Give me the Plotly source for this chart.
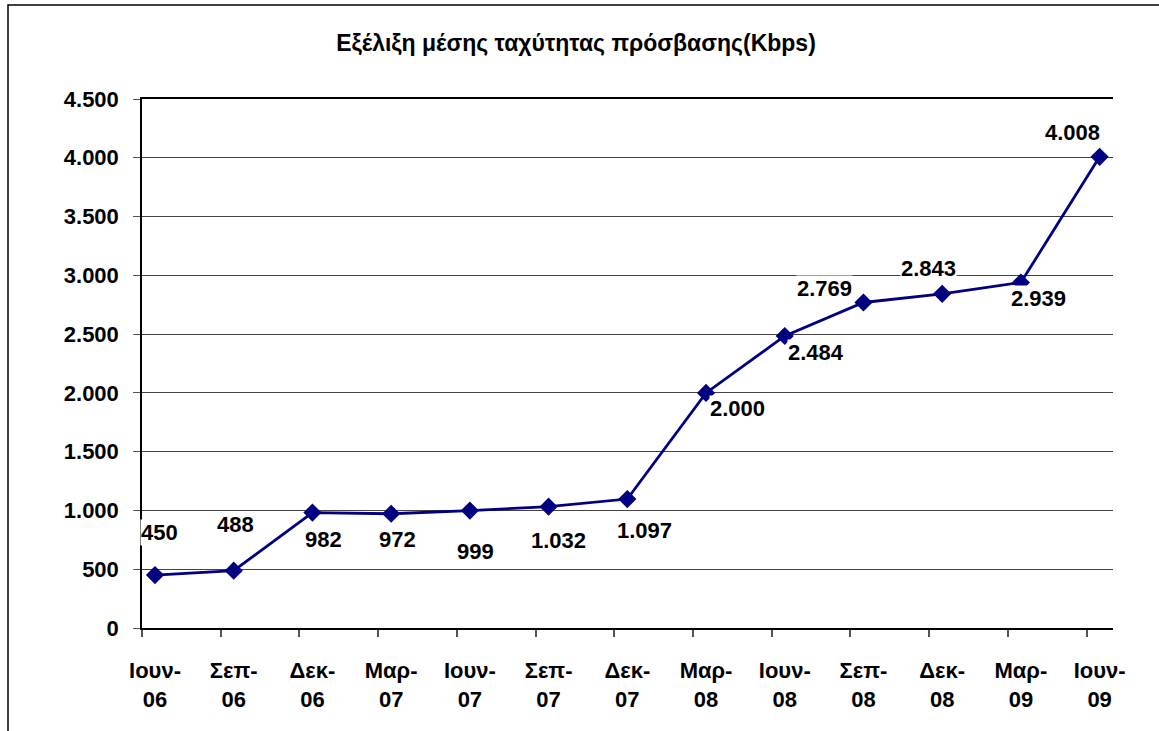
import plotly.graph_objects as go

# quarterly samples, Jun 2006 - Jun 2009
months = ['Ιουν', 'Σεπ', 'Δεκ', 'Μαρ', 'Ιουν', 'Σεπ', 'Δεκ',
          'Μαρ', 'Ιουν', 'Σεπ', 'Δεκ', 'Μαρ', 'Ιουν']
years = ['06', '06', '06', '07', '07', '07', '07',
         '08', '08', '08', '08', '09', '09']
speed_kbps = [450, 488, 982, 972, 999, 1032, 1097,
              2000, 2484, 2769, 2843, 2939, 4008]
y_ticks = [0, 500, 1000, 1500, 2000, 2500, 3000, 3500, 4000, 4500]

# label offsets (px) for each point, as placed in the original
label_dx = [5, 2, 11, 6, 6, 10, 17, 31, 31, -39, -14, 18, -27]
label_dy = [43, 46, -27, -26, -41, -34, -31, -16, -17, 14, 25, -16, 24]

FONT = 'Liberation Sans, Arial, sans-serif'
fsize = 22

W, H = 1159, 731
L, T = 142, 99
PW, PH = 971, 529


def fmt(v):
	# greek thousands separator
	return '{:,}'.format(v).replace(',', '.')


xs = list(range(len(months)))
cat_labels = ['{}-<br>{}'.format(m, y) for m, y in zip(months, years)]

fig = go.Figure()

fig.add_trace(
	go.Scatter(
		x=xs,
		y=speed_kbps,
		mode='lines+markers',
		line=dict(color='#000080', width=2.8),
		marker=dict(symbol='diamond', size=14, color='#000080'),
		showlegend=False,
		hoverinfo='skip'
		)
	)

for x, v, dx, dy in zip(xs, speed_kbps, label_dx, label_dy):
	fig.add_annotation(
		x=x, y=v,
		text='<b>{}</b>'.format(fmt(v)),
		showarrow=False,
		xshift=dx, yshift=dy,
		bgcolor='white',
		borderpad=0,
		font=dict(family=FONT, size=fsize, color='black')
		)

# outer chart frame (open on the right and bottom, like the cropped original)
fig.add_shape(
	type='rect', xref='paper', yref='paper',
	x0=(8 - L) / PW, x1=1.2,
	y0=-0.4, y1=(T + PH - 5) / PH,
	line=dict(color='black', width=1.5),
	layer='below'
	)

fig.update_layout(
	width=W,
	height=H,
	margin=dict(l=L, r=W - L - PW, t=T, b=H - T - PH),
	paper_bgcolor='white',
	plot_bgcolor='white',
	title=dict(
		text='<b>Εξέλιξη μέσης ταχύτητας πρόσβασης(Kbps)</b>',
		x=576 / W, xanchor='center',
		y=1 - 43 / H, yanchor='middle',
		font=dict(family=FONT, size=23, color='black')
		),
	xaxis=dict(
		range=[-0.165, 12.17],
		tickmode='array',
		tickvals=xs,
		ticktext=['<b>{}</b>'.format(t) for t in cat_labels],
		ticks='',
		ticklabelstandoff=22,
		showgrid=False,
		zeroline=False,
		showline=True,
		linecolor='black',
		linewidth=2,
		mirror=True,
		minor=dict(
			ticks='outside',
			tickmode='linear',
			tick0=-0.165,
			dtick=1,
			ticklen=7,
			tickcolor='#555555',
			tickwidth=1.5,
			showgrid=False
			),
		tickfont=dict(family=FONT, size=fsize, color='black')
		),
	yaxis=dict(
		range=[0, 4500],
		tickmode='array',
		tickvals=y_ticks,
		ticktext=['<b>{}</b>'.format(fmt(t)) for t in y_ticks],
		ticks='outside',
		ticklen=7,
		tickcolor='#555555',
		ticklabelstandoff=10,
		showgrid=True,
		gridcolor='#444444',
		gridwidth=1,
		zeroline=False,
		showline=True,
		linecolor='black',
		linewidth=1.5,
		tickfont=dict(family=FONT, size=fsize, color='black')
		)
	)

# drop the default page margin so the figure fills the window exactly
fig.write_html('out.html',
               config={'displayModeBar': False},
               post_script="document.body.style.margin='0';document.body.style.overflow='hidden';")
